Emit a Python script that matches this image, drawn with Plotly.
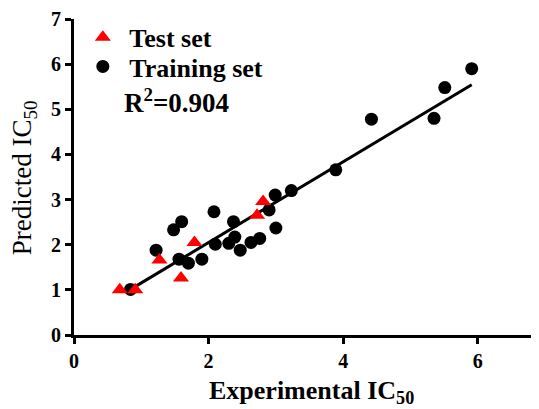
import numpy as np
import plotly.graph_objects as go

# Test set (red triangles)
test_x = [0.68, 0.91, 1.27, 1.59, 1.79, 2.72, 2.81]
test_y = [1.00, 1.00, 1.66, 1.26, 2.05, 2.65, 2.96]

# Training set (black circles)
train_x = [0.84, 1.22, 1.48, 1.60, 1.56, 1.70, 1.90, 2.08, 2.10, 2.30, 2.37, 2.39,
           2.47, 2.63, 2.76, 2.90, 2.99, 3.00, 3.23, 3.89, 4.42, 5.35, 5.51, 5.91]
train_y = [1.01, 1.88, 2.33, 2.51, 1.68, 1.59, 1.68, 2.73, 2.01, 2.03, 2.51, 2.17,
           1.88, 2.05, 2.14, 2.77, 3.10, 2.37, 3.20, 3.66, 4.78, 4.80, 5.48, 5.90]

# Fitted regression line
fit_slope = 0.894
fit_intercept = 0.26
r2_label = "R<sup>2</sup>=0.904"

x_ticks = [0, 2, 4, 6]
y_ticks = [0, 1, 2, 3, 4, 5, 6, 7]

FONT = "Liberation Serif"
NB = "\u00a0"

line_x = np.array([min(train_x), max(train_x)])
line_y = fit_slope * line_x + fit_intercept

fig = go.Figure()
fig.add_trace(go.Scatter(x=line_x, y=line_y, mode="lines",
                         line=dict(color="black", width=3), showlegend=False,
                         hoverinfo="skip"))
fig.add_trace(go.Scatter(x=train_x, y=train_y, mode="markers",
                         name=NB + "<b>Training set</b>", legend="legend2",
                         marker=dict(symbol="circle", size=13, color="black")))
fig.add_trace(go.Scatter(x=test_x, y=test_y, mode="markers",
                         name=NB + "<b>Test set</b>", legend="legend",
                         marker=dict(symbol="triangle-up", size=14, color="#ff0000")))

axis_common = dict(showline=True, linecolor="black", linewidth=3, ticks="outside",
                   ticklen=6, tickwidth=2.5, tickcolor="black", showgrid=False,
                   zeroline=False, tickfont=dict(family=FONT, size=20, color="black"))

fig.update_xaxes(range=[0, 6.91], tickvals=x_ticks,
                 ticktext=[f"<b>{v}</b>" for v in x_ticks], **axis_common)
fig.update_yaxes(range=[0, 7], tickvals=y_ticks,
                 ticktext=[f"<b>{v}</b>" for v in y_ticks], **axis_common)

leg_common = dict(xanchor="left", yanchor="top",
                  font=dict(family=FONT, size=26, color="black"),
                  bgcolor="rgba(0,0,0,0)")

fig.update_layout(
    width=531, height=401,
    margin=dict(l=66, r=0, t=11, b=74, autoexpand=False),
    plot_bgcolor="white", paper_bgcolor="white",
    font=dict(family=FONT, color="black"),
    legend=dict(x=0.019, y=1.016, **leg_common),
    legend2=dict(x=0.019, y=0.924, **leg_common),
    annotations=[
        dict(text="<b>" + r2_label + "</b>", xref="paper", yref="paper",
             x=0.103, y=0.74, xanchor="left", yanchor="middle", showarrow=False,
             font=dict(family=FONT, size=27, color="black")),
        dict(text="<b>Experimental IC<sub>50</sub></b>", xref="paper", yref="paper",
             x=0.51, y=-0.236, xanchor="center", yanchor="bottom", showarrow=False,
             font=dict(family=FONT, size=26, color="black")),
        dict(text="Predicted IC<sub>50</sub>", xref="paper", yref="paper",
             x=-0.107, y=0.497, xanchor="center", yanchor="middle", showarrow=False,
             textangle=-90, font=dict(family=FONT, size=27, color="black")),
    ],
)

fig.write_html("out.html")
